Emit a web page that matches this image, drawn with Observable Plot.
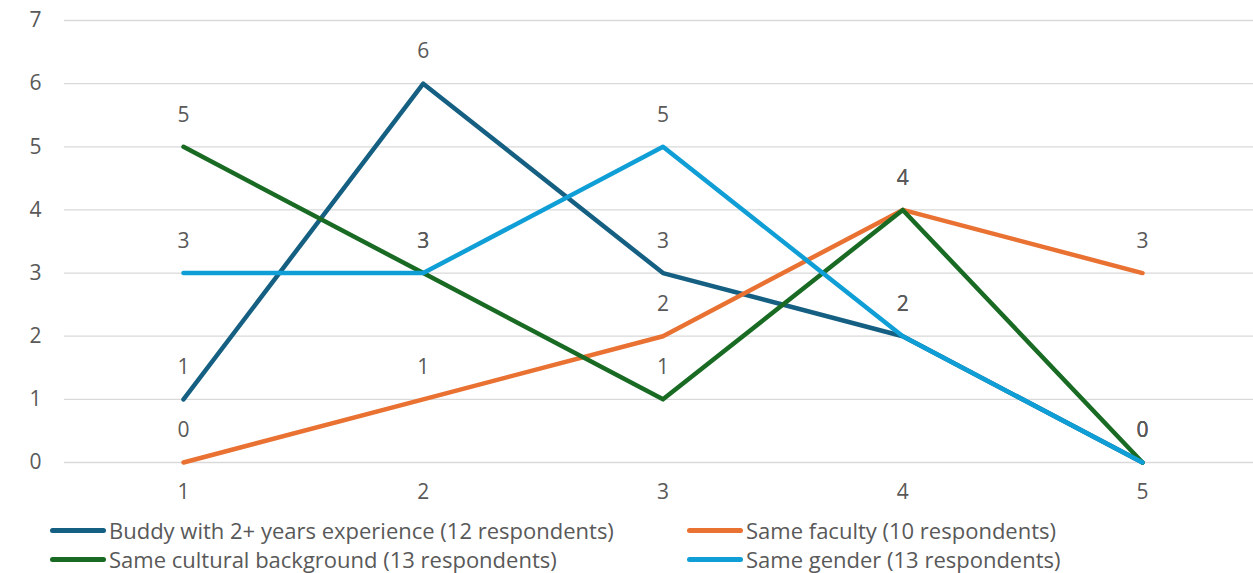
<!DOCTYPE html>
<html><head><meta charset="utf-8">
<script src="https://cdn.jsdelivr.net/npm/d3@7"></script>
<script src="https://cdn.jsdelivr.net/npm/@observablehq/plot@0.6"></script>
<style>
body{margin:0;background:#fff;font-family:"Open Sans",sans-serif;overflow:hidden;}
#wrap{width:1253px;}
#legend{display:grid;grid-template-columns:637px auto;padding-left:50px;padding-top:6px;color:#595959;font-size:22px;line-height:29px;}
.item{display:flex;align-items:center;height:29px;white-space:nowrap;}
.sw{width:56px;height:5px;border-radius:3px;margin-right:3px;flex:none;}
</style></head><body><div id="wrap"><div id="chart"></div><div id="legend"></div></div>
<script>
const categories = [1, 2, 3, 4, 5];
const seriesNames = [
  "Buddy with 2+ years experience (12 respondents)",
  "Same faculty (10 respondents)",
  "Same cultural background (13 respondents)",
  "Same gender (13 respondents)"
];
const buddy = [1, 6, 3, 2, 0];
const faculty = [0, 1, 2, 4, 3];
const cultural = [5, 3, 1, 4, 0];
const gender = [3, 3, 5, 2, 0];
const colors = ["#156082", "#E97132", "#196B24", "#0F9ED5"];
const yTicks = [0, 1, 2, 3, 4, 5, 6, 7];

const values = [buddy, faculty, cultural, gender];
const data = seriesNames.flatMap((s, i) => categories.map((c, j) => ({series: s, x: c, y: values[i][j]})));

const chart = Plot.plot({
  width: 1253, height: 510,
  marginLeft: 64, marginRight: 0, marginTop: 20, marginBottom: 48,
  style: {fontFamily: "Open Sans", fontSize: "21px", color: "#595959", background: "white"},
  x: {domain: [1, 5], range: [183, 1142]},
  y: {domain: [0, 7]},
  color: {domain: seriesNames, range: colors},
  marks: [
    Plot.gridY(yTicks, {stroke: "#d9d9d9", strokeOpacity: 1, strokeWidth: 1.3}),
    Plot.axisY(yTicks, {tickSize: 0, tickPadding: 23, label: null, tickFormat: d => String(d), fill: "#595959"}),
    Plot.axisX(categories, {tickSize: 0, tickPadding: 22, label: null, tickFormat: d => String(d), fill: "#595959"}),
    Plot.lineY(data, {x: "x", y: "y", z: "series", stroke: "series", strokeWidth: 4.5, strokeLinecap: "round", strokeLinejoin: "round"}),
    Plot.text(data, {x: "x", y: "y", text: d => String(d.y), dy: -32, fill: "#595959"})
  ]
});
document.getElementById("chart").appendChild(chart);

const legend = document.getElementById("legend");
seriesNames.forEach((s, i) => {
  const it = document.createElement("div");
  it.className = "item";
  const sw = document.createElement("span");
  sw.className = "sw";
  sw.style.background = colors[i];
  const t = document.createElement("span");
  t.textContent = s;
  it.appendChild(sw); it.appendChild(t);
  legend.appendChild(it);
});
</script>
</body></html>
